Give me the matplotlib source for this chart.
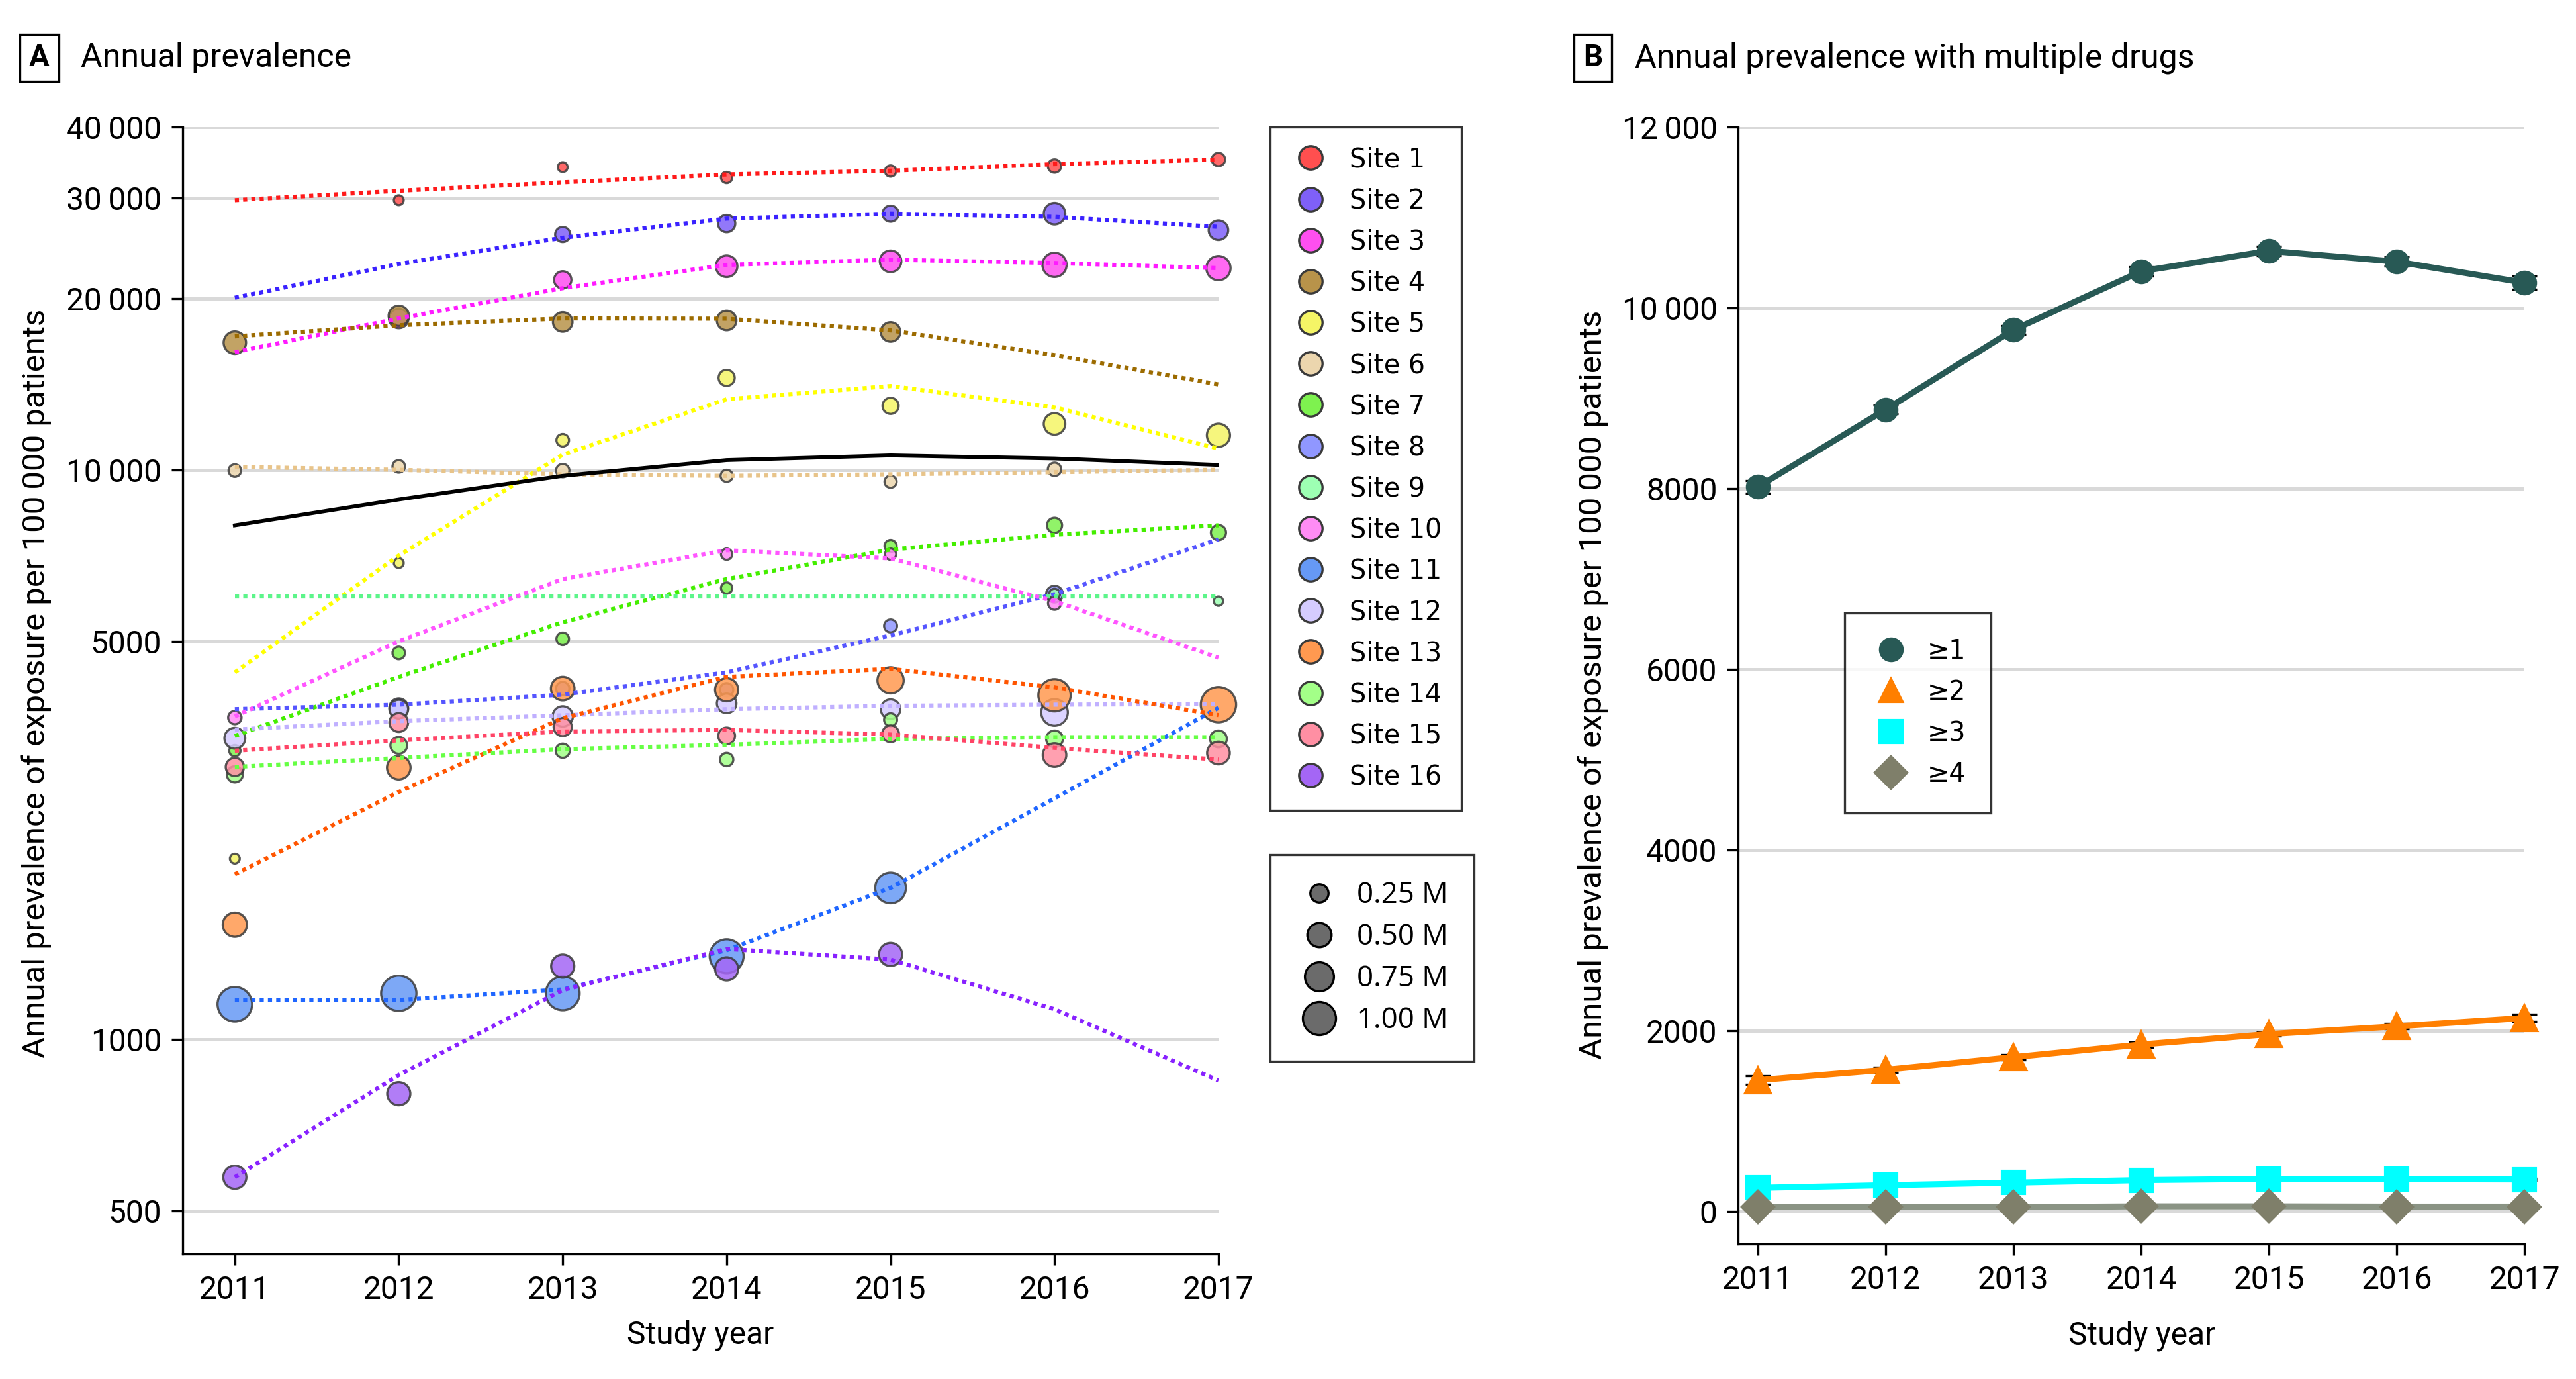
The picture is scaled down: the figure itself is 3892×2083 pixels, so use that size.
import numpy as np
import matplotlib.pyplot as plt
from matplotlib.lines import Line2D
from matplotlib.ticker import NullLocator

plt.rcParams['font.family'] = ['Roboto', 'DejaVu Sans']

years = [2011, 2012, 2013, 2014, 2015, 2016, 2017]
nan = np.nan

site_names = [f"Site {i}" for i in range(1, 17)]
point_colors = ["#ff4f4f", "#7f60f8", "#ff4ff0", "#b8934a", "#f5f566", "#ecd6ae",
                "#7ef24f", "#9097ff", "#9dffb3", "#ff8cf5", "#6699f5", "#d5ccff",
                "#ff9950", "#a3ff88", "#ff8fa3", "#a466f5"]
trend_colors = ["#ff1a1a", "#3a22ff", "#ff1aff", "#9c6b00", "#ffff00", "#e8c48a",
                "#44ee00", "#5555ff", "#5cf58a", "#ff55ff", "#1f66ff", "#c0b0ff",
                "#ff5500", "#66ff44", "#ff4466", "#8822ff"]

# observed annual prevalence per 100 000 patients (2011-2017)
site_prev = [
    [nan, 29740, 33990, 32600, 33460, 34140, 35050],
    [nan, nan, 25890, 27060, 28160, 28160, 26340],
    [nan, 18440, 21550, 22770, 23230, 22900, 22600],
    [16720, 18640, 18180, 18290, 17460, nan, nan],
    [2077, 6860, 11270, 14500, 12950, 12040, 11500],
    [9970, 10140, 9970, 9760, 9530, 10020, nan],
    [3213, 4770, 5050, 6200, 7350, 7990, 7760],
    [nan, 3822, 4130, 4110, 5320, 6050, nan],
    [nan, nan, nan, nan, nan, 6050, 5880],
    [3673, nan, nan, 7110, 7110, 5830, nan],
    [1153, 1205, 1205, 1400, 1845, nan, nan],
    [3379, 3800, 3690, 3890, 3800, 3750, nan],
    [1590, 3000, 4130, 4110, 4270, 4020, 3870],
    [2920, 3283, 3213, 3100, 3640, 3370, 3370],
    [3009, 3600, 3535, 3410, 3440, 3157, 3183],
    [573, 803, 1345, 1330, 1410, nan, nan],
]
# patients at site (millions)
site_pop = [
    [nan, 0.02, 0.02, 0.05, 0.05, 0.10, 0.10],
    [nan, nan, 0.15, 0.22, 0.18, 0.38, 0.30],
    [nan, 0.30, 0.22, 0.38, 0.38, 0.50, 0.50],
    [0.42, 0.33, 0.30, 0.30, 0.30, nan, nan],
    [0.02, 0.02, 0.08, 0.18, 0.18, 0.38, 0.45],
    [0.08, 0.08, 0.10, 0.07, 0.07, 0.10, nan],
    [0.05, 0.08, 0.08, 0.05, 0.07, 0.15, 0.15],
    [nan, 0.27, 0.10, 0.10, 0.09, 0.20, nan],
    [nan, nan, nan, nan, nan, 0.04, 0.01],
    [0.10, nan, nan, 0.05, 0.05, 0.09, nan],
    [1.10, 1.15, 1.05, 1.05, 0.85, nan, nan],
    [0.35, 0.27, 0.33, 0.30, 0.30, 0.62, nan],
    [0.50, 0.47, 0.47, 0.45, 0.60, 0.95, 1.15],
    [0.18, 0.20, 0.12, 0.10, 0.09, 0.20, 0.20],
    [0.25, 0.27, 0.25, 0.20, 0.20, 0.47, 0.43],
    [0.45, 0.45, 0.45, 0.45, 0.45, nan, nan],
]
# fitted trend per site
site_trend = [
    [29740, 30900, 31970, 33000, 33500, 34400, 35050],
    [20050, 22980, 25550, 27600, 28160, 27800, 26700],
    [16090, 18440, 20840, 22900, 23380, 23070, 22600],
    [17150, 17940, 18440, 18420, 17570, 15900, 14120],
    [4410, 7070, 10630, 13300, 14030, 12870, 10900],
    [10120, 10000, 9820, 9760, 9820, 9905, 10000],
    [3410, 4330, 5400, 6430, 7244, 7690, 7990],
    [3800, 3870, 4030, 4410, 5120, 6050, 7550],
    [5990, 5990, 5990, 5990, 5990, 5990, 5990],
    [3690, 5000, 6430, 7225, 6990, 5880, 4680],
    [1173, 1173, 1224, 1434, 1845, 2650, 3820],
    [3500, 3620, 3707, 3800, 3852, 3870, 3880],
    [1950, 2720, 3665, 4330, 4473, 4150, 3710],
    [3009, 3120, 3233, 3290, 3370, 3393, 3393],
    [3213, 3350, 3472, 3494, 3430, 3250, 3100],
    [573, 866, 1221, 1442, 1381, 1130, 847],
]
overall_trend = [7990, 8870, 9760, 10400, 10600, 10470, 10200]

size_levels = [0.25, 0.50, 0.75, 1.00]
size_labels = ["0.25 M", "0.50 M", "0.75 M", "1.00 M"]

# panel B
drug_labels = ["\u22651", "\u22652", "\u22653", "\u22654"]
drug_colors = ["#285955", "#ff7f00", "#00ffff", "#7f7f6a"]
drug_line_colors = ["#285955", "#ff7f00", "#00ffff", "#8a9384"]
drug_markers = ["o", "^", "s", "D"]
drug_prev = [
    [8018, 8873, 9754, 10403, 10629, 10509, 10277],
    [1455, 1570, 1710, 1850, 1965, 2051, 2143],
    [264, 293, 322, 350, 363, 360, 357],
    [54, 51, 51, 60, 60, 57, 57],
]
drug_err = [
    [70, 50, 50, 50, 50, 50, 75],
    [45, 30, 30, 30, 25, 30, 40],
    [15, 12, 12, 12, 12, 12, 12],
    [8, 8, 8, 8, 8, 8, 8],
]


def marker_area(pop):
    return 10 + 134 * np.asarray(pop, dtype=float)


fig = plt.figure(figsize=(3892 / 300, 2083 / 300), dpi=300)
axA = fig.add_axes([0.0708, 0.0906, 0.4022, 0.8174])
axB = fig.add_axes([0.6747, 0.0977, 0.3053, 0.8103])

for ax in (axA, axB):
    for side in ("top", "right"):
        ax.spines[side].set_visible(False)
    ax.spines["left"].set_linewidth(0.8)
    ax.spines["bottom"].set_linewidth(0.8)
    ax.grid(axis="y", color="#d9d9d9", lw=1.2)
    ax.set_axisbelow(True)
    ax.tick_params(length=4, width=0.8, labelsize=11.5)
    ax.set_xticks(years)

# ---- panel A ----
for i in range(16):
    axA.scatter(years, site_prev[i], s=marker_area(site_pop[i]), c=point_colors[i],
                edgecolors="#3a3a3a", linewidths=0.8, alpha=0.85, zorder=2, clip_on=False)
for i in range(16):
    axA.plot(years, site_trend[i], color=trend_colors[i], lw=1.5, ls=(0, (1, 1)), zorder=3)
axA.plot(years, overall_trend, color="black", lw=1.4, zorder=4)

axA.set_yscale("log")
axA.set_ylim(420, 40000)
axA.set_xlim(2010.68, 2017)
yt = [500, 1000, 5000, 10000, 20000, 30000, 40000]
axA.set_yticks(yt)
axA.set_yticklabels(["500", "1000", "5000", "10\u2009000", "20\u2009000", "30\u2009000", "40\u2009000"])
axA.yaxis.set_minor_locator(NullLocator())
axA.set_ylabel("Annual prevalence of exposure per 100\u2009000 patients", fontsize=11.8)
axA.yaxis.set_label_coords(-0.126, 0.506)
axA.set_xlabel("Study year", fontsize=11.5)
axA.xaxis.set_label_coords(0.5, -0.058)

site_handles = [Line2D([], [], ls="none", marker="o", markersize=8.5, markerfacecolor=c,
                       markeredgecolor="#3a3a3a", markeredgewidth=0.8) for c in point_colors]
leg1 = fig.legend(site_handles, site_names, loc="upper left", bbox_to_anchor=(0.493, 0.908),
                  borderaxespad=0, frameon=True, fancybox=False, edgecolor="black",
                  prop={"family": "DejaVu Sans", "size": 9.5}, labelspacing=0.56,
                  handlelength=1.6, handletextpad=0.7, borderpad=0.75)
leg1.get_frame().set_linewidth(0.8)

size_handles = [Line2D([], [], ls="none", marker="o", markersize=np.sqrt(marker_area(p)),
                       markerfacecolor="#6b6b6b", markeredgecolor="black", markeredgewidth=0.8)
                for p in size_levels]
leg2 = fig.legend(size_handles, size_labels, loc="upper left", bbox_to_anchor=(0.493, 0.380),
                  borderaxespad=0, frameon=True, fancybox=False, edgecolor="black",
                  prop={"family": "Open Sans", "size": 10.5}, labelspacing=0.42,
                  handlelength=1.6, handletextpad=0.5, borderpad=0.9)
leg2.get_frame().set_linewidth(0.8)

# ---- panel B ----
for i in range(4):
    axB.errorbar(years, drug_prev[i], yerr=drug_err[i], color=drug_line_colors[i], lw=2.2,
                 marker=drug_markers[i], markersize=8 if i != 1 else 9,
                 markerfacecolor=drug_colors[i], markeredgecolor=drug_colors[i],
                 ecolor="black", elinewidth=0.8, capsize=4.5, capthick=0.8, zorder=3,
                 clip_on=False)
axB.set_ylim(-360, 12000)
axB.set_xlim(2010.845, 2017)
axB.set_yticks([0, 2000, 4000, 6000, 8000, 10000, 12000])
axB.set_yticklabels(["0", "2000", "4000", "6000", "8000", "10\u2009000", "12\u2009000"])
axB.set_ylabel("Annual prevalence of exposure per 100\u2009000 patients", fontsize=11.8)
axB.yaxis.set_label_coords(-0.165, 0.501)
axB.set_xlabel("Study year", fontsize=11.5)
axB.xaxis.set_label_coords(0.514, -0.068)

drug_handles = [Line2D([], [], ls="none", marker=m, markersize=8, markerfacecolor=c,
                       markeredgecolor=c) for m, c in zip(drug_markers, drug_colors)]
leg3 = fig.legend(drug_handles, drug_labels, loc="upper left", bbox_to_anchor=(0.7162, 0.5554),
                  borderaxespad=0, frameon=True, fancybox=False, edgecolor="black",
                  prop={"family": "DejaVu Sans", "size": 9.5}, labelspacing=0.56,
                  handlelength=1.6, handletextpad=0.6, borderpad=0.95)
leg3.get_frame().set_linewidth(0.8)

# panel titles
box = dict(boxstyle="square,pad=0.3", fc="white", ec="black", lw=0.8)
fig.text(0.0153, 0.958, "A", fontsize=11, fontweight="bold", va="center", ha="center", bbox=box)
fig.text(0.0313, 0.958, "Annual prevalence", fontsize=12, va="center", ha="left")
fig.text(0.6183, 0.958, "B", fontsize=11, fontweight="bold", va="center", ha="center", bbox=box)
fig.text(0.6346, 0.958, "Annual prevalence with multiple drugs", fontsize=12, va="center", ha="left")

fig.savefig("out.png", dpi=300)
